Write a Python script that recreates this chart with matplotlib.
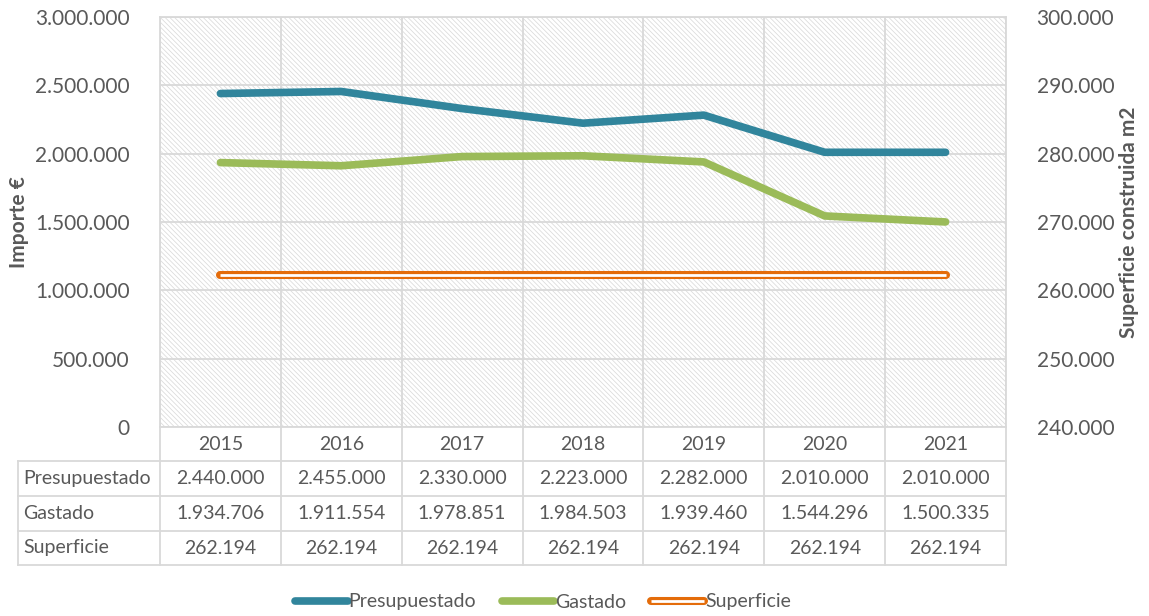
import numpy as np
import matplotlib
matplotlib.use("Agg")
import matplotlib.pyplot as plt
from matplotlib.patches import Rectangle
from matplotlib.lines import Line2D
import matplotlib.patheffects as pe
import matplotlib.transforms as mtrans

plt.rcParams['font.family'] = ['Lato', 'DejaVu Sans']
plt.rcParams['hatch.linewidth'] = 0.55

# data
years = ["2015", "2016", "2017", "2018", "2019", "2020", "2021"]
presupuestado = [2440000, 2455000, 2330000, 2223000, 2282000, 2010000, 2010000]
gastado = [1934706, 1911554, 1978851, 1984503, 1939460, 1544296, 1500335]
superficie = [262194, 262194, 262194, 262194, 262194, 262194, 262194]

c_pres = "#31859C"
c_gast = "#9BBB59"
c_sup = "#E46C0A"
grid_c = "#D9D9D9"
txt_c = "#595959"
W, H = 1149, 616

def fmt(v):
    return "{:,}".format(int(v)).replace(",", ".")

fig = plt.figure(figsize=(W / 100, H / 100), dpi=100)
ax = fig.add_axes([160 / W, 1 - 427 / H, 846 / W, 410 / H])
ax2 = ax.twinx()

x = np.arange(len(years))

# hatched plot area
ax.add_patch(Rectangle((0, 0), 1, 1, transform=ax.transAxes, facecolor="white",
                       edgecolor="#DADADA", hatch="\\" * 7, linewidth=0, zorder=0.1))

ax.set_xlim(-0.5, len(years) - 0.5)
ax.set_ylim(0, 3000000)
ax.set_yticks(np.arange(0, 3000001, 500000))
ax.set_yticklabels([fmt(v) for v in np.arange(0, 3000001, 500000)])
ax.set_xticks(np.arange(-0.5, len(years)))
ax.set_xticklabels([])
ax.set_axisbelow(True)
ax.grid(True, color=grid_c, linewidth=1.3, zorder=0.5)
ax.tick_params(length=0, labelsize=15, labelcolor=txt_c, pad=22)
for s in ax.spines.values():
    s.set_color(grid_c)
    s.set_linewidth(1.3)

ax2.set_ylim(240000, 300000)
ax2.set_yticks(np.arange(240000, 300001, 10000))
ax2.set_yticklabels([fmt(v) for v in np.arange(240000, 300001, 10000)])
ax2.tick_params(length=0, labelsize=15, labelcolor=txt_c, pad=22)
for s in ax2.spines.values():
    s.set_visible(False)

ax.plot(x, presupuestado, color=c_pres, lw=5.5, solid_capstyle="round",
        solid_joinstyle="round", zorder=3, label="Presupuestado")
ax.plot(x, gastado, color=c_gast, lw=5.5, solid_capstyle="round",
        solid_joinstyle="round", zorder=3, label="Gastado")
ax2.plot(x, superficie, color="white", lw=2.0, solid_capstyle="butt", zorder=4,
         label="Superficie",
         path_effects=[pe.Stroke(linewidth=5.8, foreground=c_sup, capstyle="round"), pe.Normal()])

ax.set_ylabel("Importe €", fontsize=15, fontweight="bold", color=txt_c, va="center")
ax.yaxis.set_label_coords((19 - 160) / 846, 0.5)
ax2.set_ylabel("Superficie construida m2", fontsize=15, fontweight="bold", color=txt_c, va="center")
ax2.yaxis.set_label_coords((1129 - 160) / 846, 0.5)

# data table below the chart
tr = mtrans.blended_transform_factory(ax.transData, fig.transFigure)
rows_y = [427, 461, 496, 531, 565]
fy = lambda p: 1 - p / H
for b in np.arange(-0.5, len(years)):
    fig.add_artist(Line2D([b, b], [fy(427), fy(565)], transform=tr, color=grid_c, lw=1.3))
fig.add_artist(Line2D([18 / W, 18 / W], [fy(461), fy(565)], transform=fig.transFigure, color=grid_c, lw=1.3))
for yy in rows_y[1:]:
    fig.add_artist(Line2D([18 / W, 1006 / W], [fy(yy), fy(yy)], transform=fig.transFigure, color=grid_c, lw=1.3))

for i, yr in enumerate(years):
    fig.text(i, fy(444), yr, transform=tr, ha="center", va="center", fontsize=14, color=txt_c)

table_rows = [("Presupuestado", presupuestado), ("Gastado", gastado), ("Superficie", superficie)]
for r, (name, vals) in enumerate(table_rows):
    yc = fy((rows_y[r + 1] + rows_y[r + 2]) / 2)
    fig.text(23 / W, yc, name, ha="left", va="center", fontsize=14, color=txt_c)
    for i, v in enumerate(vals):
        fig.text(i, yc, fmt(v), transform=tr, ha="center", va="center", fontsize=14, color=txt_c)

# legend
h1, l1 = ax.get_legend_handles_labels()
h2, l2 = ax2.get_legend_handles_labels()
fig.legend(h1 + h2, l1 + l2, loc="center", bbox_to_anchor=(543 / W, fy(602)), ncol=3,
           frameon=False, fontsize=14, labelcolor=txt_c, handlelength=2.7,
           handletextpad=0.05, columnspacing=1.3)

fig.savefig("out.png", dpi=100)
